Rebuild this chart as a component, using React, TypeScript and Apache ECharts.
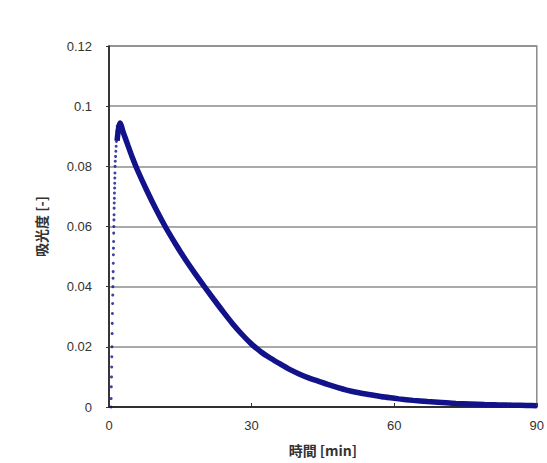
import React, { useEffect, useRef } from "react";
import * as echarts from "echarts";

// Rising part: discrete sampled points (time [min], absorbance)
const riseTime = [
  0.42, 0.45, 0.49, 0.52, 0.56, 0.59, 0.62, 0.66, 0.69, 0.72, 0.76, 0.79, 0.82,
  0.85, 0.87, 0.9, 0.92, 0.94, 0.97, 0.99, 1.01, 1.04, 1.06, 1.08, 1.11, 1.13, 1.15, 1.18, 1.2, 1.22, 1.25, 1.27,
  1.32, 1.38, 1.44, 1.5, 1.56, 1.62, 1.68, 1.74,
];
const riseValue = [
  0, 0.0028, 0.0067, 0.01, 0.0133, 0.0167, 0.02, 0.0244, 0.0278, 0.0311, 0.0344, 0.0372, 0.04,
  0.0428, 0.045, 0.0478, 0.0506, 0.0528, 0.055, 0.0578, 0.06, 0.0622, 0.0639, 0.0661, 0.0678, 0.0694, 0.0711, 0.0728, 0.0744, 0.0761, 0.0778, 0.08,
  0.0817, 0.0833, 0.085, 0.0867, 0.0883, 0.09, 0.0917, 0.0933,
];

// Decay part: dense measured band
const decayTime = [
  1.7, 2.0, 2.3, 3, 4, 5, 6, 8, 10, 12, 14, 16, 18, 20, 22, 24, 26, 28, 30, 32, 34, 36, 38, 40,
  42, 44, 46, 48, 50, 52, 55, 58, 61, 64, 67, 70, 73, 76, 79, 82, 85, 88, 90,
];
const decayValue = [
  0.0885, 0.0925, 0.0944, 0.0913, 0.0869, 0.0826, 0.0787, 0.0718, 0.0654, 0.0595, 0.0542, 0.0492, 0.0446, 0.0402,
  0.0359, 0.0317, 0.0277, 0.0241, 0.0209, 0.0183, 0.0162, 0.0143, 0.0125, 0.011,
  0.0097, 0.0086, 0.0075, 0.0065, 0.0056, 0.0049, 0.0041, 0.0033, 0.0027, 0.0022, 0.0018, 0.0015,
  0.0012, 0.001, 0.0008, 0.0007, 0.0006, 0.0005, 0.0004,
];

const xTicks = [0, 30, 60, 90];
const yTicks = [0, 0.02, 0.04, 0.06, 0.08, 0.1, 0.12];

const NAVY = "#12128a";

export default function App() {
  const ref = useRef<HTMLDivElement>(null);
  useEffect(() => {
    if (!ref.current) return;
    const chart = echarts.init(ref.current, undefined, { renderer: "svg" });
    const labelFont = { fontFamily: "Liberation Sans, Arial, sans-serif", fontSize: 13, color: "#333" };
    const nameFont = { fontFamily: "Noto Sans CJK JP", fontSize: 14, fontWeight: "bold", color: "#333" };
    chart.setOption({
      animation: false,
      backgroundColor: "#ffffff",
      grid: {
        left: 109,
        right: 10,
        top: 46,
        bottom: 56,
        show: true,
        borderColor: "#8c8c8c",
        borderWidth: 1.5,
      },
      xAxis: {
        type: "value",
        min: xTicks[0],
        max: xTicks[xTicks.length - 1],
        interval: 30,
        name: "時間 [min]",
        nameLocation: "middle",
        nameGap: 36,
        nameTextStyle: nameFont,
        axisLine: { show: true, onZero: false, lineStyle: { color: "#111", width: 1.5 } },
        axisTick: { show: true, inside: true, length: 4, lineStyle: { color: "#333" } },
        axisLabel: { ...labelFont, margin: 12 },
        splitLine: { show: false },
      },
      yAxis: {
        type: "value",
        min: yTicks[0],
        max: yTicks[yTicks.length - 1],
        interval: 0.02,
        name: "吸光度 [-]",
        nameLocation: "middle",
        nameGap: 61,
        nameRotate: 90,
        nameTextStyle: nameFont,
        axisLine: { show: true, onZero: false, lineStyle: { color: "#111", width: 1.5 } },
        axisTick: { show: true, inside: false, length: 3, lineStyle: { color: "#333" } },
        axisLabel: { ...labelFont, margin: 17 },
        splitLine: { show: true, lineStyle: { color: "#8c8c8c", width: 1.5 } },
      },
      series: [
        {
          type: "line",
          data: decayTime.map((t, i) => [t, decayValue[i]]),
          smooth: 0.3,
          showSymbol: false,
          lineStyle: { color: NAVY, width: 5.5 },
          z: 3,
        },
        {
          type: "scatter",
          data: riseTime.map((t, i) => [t, riseValue[i]]),
          symbol: "circle",
          symbolSize: 3,
          itemStyle: { color: NAVY },
          z: 4,
        },
      ],
    });
    return () => chart.dispose();
  }, []);
  return (
    <div
      ref={ref}
      style={{ position: "fixed", left: 0, top: 0, width: 547, height: 463, background: "#fff" }}
    />
  );
}
